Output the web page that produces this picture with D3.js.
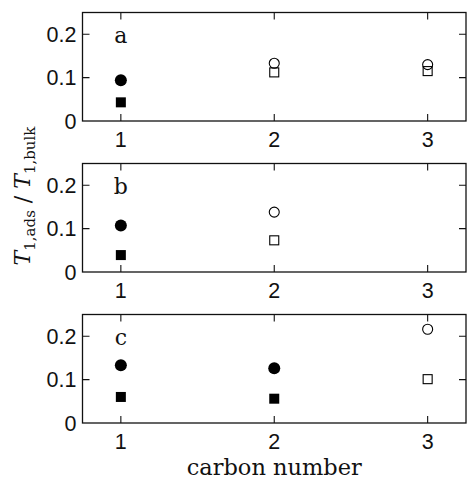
<!DOCTYPE html>
<html lang="en">
<head>
    <meta charset="UTF-8">
    <title>T1 ratio vs carbon number</title>
    <script src="https://d3js.org/d3.v7.min.js"></script>
    <style>
        body {
            margin: 0;
            background: #fff;
        }
    </style>
</head>
<body>
    <div id="chart"></div>

    <script>
        // panel labels
        const panels = ["a", "b", "c"];
        const carbonNumbers = [1, 2, 3];
        const xTicks = [1, 2, 3];
        const yTicks = [0, 0.1, 0.2];

        // filled markers (circle / square) and open markers, per panel
        const filledCircle = [
            [{ x: 1, y: 0.094 }],
            [{ x: 1, y: 0.107 }],
            [{ x: 1, y: 0.133 }, { x: 2, y: 0.126 }]
        ];
        const filledSquare = [
            [{ x: 1, y: 0.043 }],
            [{ x: 1, y: 0.039 }],
            [{ x: 1, y: 0.060 }, { x: 2, y: 0.056 }]
        ];
        const openCircle = [
            [{ x: 2, y: 0.133 }, { x: 3, y: 0.130 }],
            [{ x: 2, y: 0.138 }],
            [{ x: 3, y: 0.216 }]
        ];
        const openSquare = [
            [{ x: 2, y: 0.112 }, { x: 3, y: 0.115 }],
            [{ x: 2, y: 0.073 }],
            [{ x: 3, y: 0.101 }]
        ];

        const width = 467;
        const height = 479;
        const left = 82.5;
        const right = 466;
        const panelTops = [12.5, 163.5, 314.5];
        const panelH = 108.5;
        const tickLen = 7;
        const ink = "#111";
        const tickFont = "21.5px 'Liberation Sans', Arial, sans-serif";

        const svg = d3.select("#chart")
            .append("svg")
            .attr("width", width)
            .attr("height", height);

        const x = d3.scaleLinear()
            .domain([0.75, 3.25])
            .range([left, right]);

        panels.forEach((name, i) => {
            const top = panelTops[i];
            const y = d3.scaleLinear()
                .domain([0, 0.25])
                .range([top + panelH, top]);

            const g = svg.append("g");

            // frame
            g.append("rect")
                .attr("x", left)
                .attr("y", top)
                .attr("width", right - left)
                .attr("height", panelH)
                .attr("fill", "none")
                .attr("stroke", ink)
                .attr("stroke-width", 1.3);

            // inward ticks, all four sides
            g.selectAll(".xt")
                .data(xTicks)
                .join("path")
                .attr("d", d => `M${x(d)},${top}v${tickLen}M${x(d)},${top + panelH}v${-tickLen}`)
                .attr("stroke", ink)
                .attr("stroke-width", 1.1);

            g.selectAll(".yt")
                .data(yTicks.filter(d => d > 0))
                .join("path")
                .attr("d", d => `M${left},${y(d)}h${tickLen}M${right},${y(d)}h${-tickLen}`)
                .attr("stroke", ink)
                .attr("stroke-width", 1.1);

            // tick labels
            g.selectAll(".yl")
                .data(yTicks)
                .join("text")
                .attr("x", left - 6)
                .attr("y", d => y(d))
                .attr("dy", "0.36em")
                .attr("text-anchor", "end")
                .style("font", tickFont)
                .attr("fill", ink)
                .text(d => d === 0 ? "0" : d3.format(".1f")(d));

            g.selectAll(".xl")
                .data(xTicks)
                .join("text")
                .attr("x", d => x(d))
                .attr("y", top + panelH + 25.5)
                .attr("text-anchor", "middle")
                .style("font", tickFont)
                .attr("fill", ink)
                .text(d => d);

            // panel letter
            g.append("text")
                .attr("x", x(carbonNumbers[0]))
                .attr("y", top + 30)
                .attr("text-anchor", "middle")
                .style("font", "22px 'DejaVu Serif', serif")
                .attr("fill", ink)
                .text(name);

            // markers
            g.selectAll(".fc")
                .data(filledCircle[i])
                .join("circle")
                .attr("cx", d => x(d.x))
                .attr("cy", d => y(d.y))
                .attr("r", 6)
                .attr("fill", "#000");

            g.selectAll(".fs")
                .data(filledSquare[i])
                .join("rect")
                .attr("x", d => x(d.x) - 5)
                .attr("y", d => y(d.y) - 5)
                .attr("width", 10)
                .attr("height", 10)
                .attr("fill", "#000");

            g.selectAll(".oc")
                .data(openCircle[i])
                .join("circle")
                .attr("cx", d => x(d.x))
                .attr("cy", d => y(d.y))
                .attr("r", 5)
                .attr("fill", "none")
                .attr("stroke", "#000")
                .attr("stroke-width", 1.1);

            g.selectAll(".os")
                .data(openSquare[i])
                .join("rect")
                .attr("x", d => x(d.x) - 4.5)
                .attr("y", d => y(d.y) - 4.5)
                .attr("width", 9)
                .attr("height", 9)
                .attr("fill", "none")
                .attr("stroke", "#000")
                .attr("stroke-width", 1.1);
        });

        // x axis title
        svg.append("text")
            .attr("x", x(2))
            .attr("y", 475)
            .attr("text-anchor", "middle")
            .style("font", "22.5px 'DejaVu Serif', serif")
            .attr("fill", ink)
            .text("carbon number");

        // y axis title
        const yTitle = svg.append("text")
            .attr("transform", "translate(30,196) rotate(-90)")
            .attr("text-anchor", "middle")
            .style("font", "22px 'DejaVu Serif', serif")
            .attr("fill", ink);
        yTitle.append("tspan").style("font-style", "italic").text("T");
        yTitle.append("tspan").attr("dy", 5).style("font-size", "15px").text("1,ads");
        yTitle.append("tspan").attr("dy", -5).text(" / ");
        yTitle.append("tspan").style("font-style", "italic").text("T");
        yTitle.append("tspan").attr("dy", 5).style("font-size", "15px").text("1,bulk");
    </script>
</body>
</html>
